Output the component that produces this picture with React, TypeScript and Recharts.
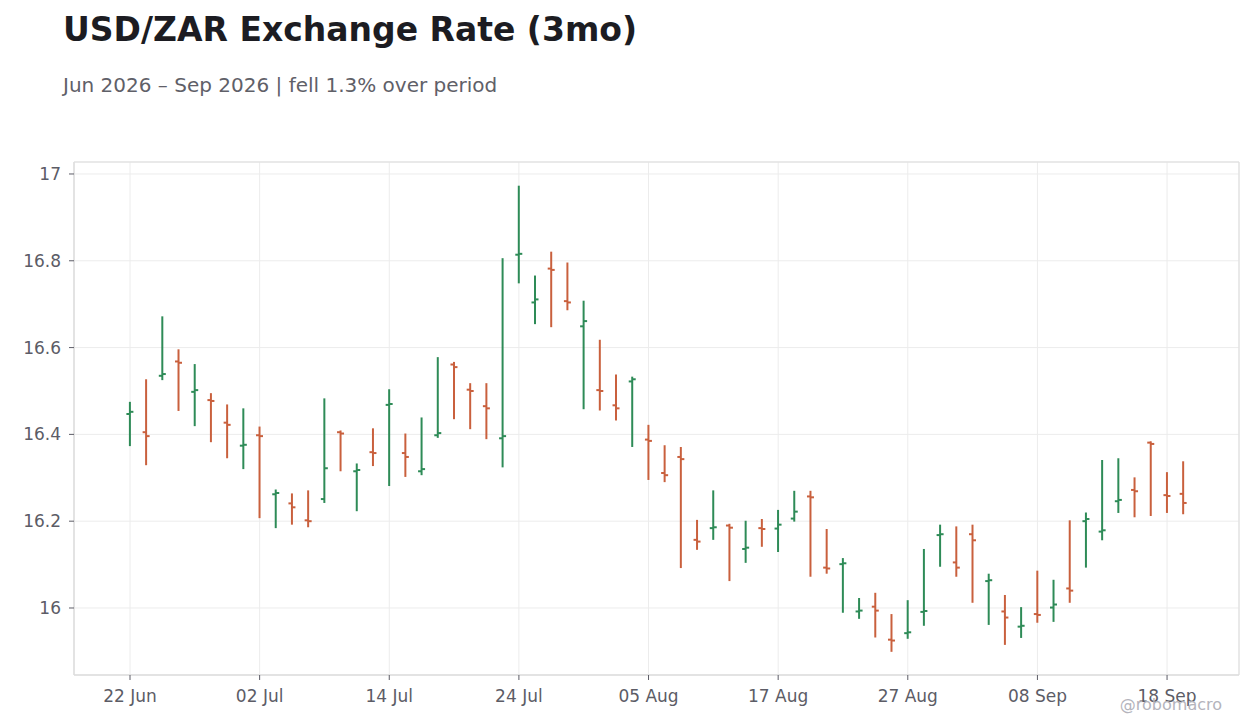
import {
  ComposedChart,
  Bar,
  XAxis,
  YAxis,
  CartesianGrid,
  ReferenceArea,
} from 'recharts'

// business days, 22 Jun -> 21 Sep 2026
const DATES = [
  '22 Jun', '23 Jun', '24 Jun', '25 Jun', '26 Jun', '29 Jun', '30 Jun',
  '01 Jul', '02 Jul', '03 Jul', '06 Jul', '07 Jul', '08 Jul', '09 Jul', '10 Jul',
  '13 Jul', '14 Jul', '15 Jul', '16 Jul', '17 Jul', '20 Jul', '21 Jul', '22 Jul',
  '23 Jul', '24 Jul', '27 Jul', '28 Jul', '29 Jul', '30 Jul', '31 Jul',
  '03 Aug', '04 Aug', '05 Aug', '06 Aug', '07 Aug', '10 Aug', '11 Aug', '12 Aug',
  '13 Aug', '14 Aug', '17 Aug', '18 Aug', '19 Aug', '20 Aug', '21 Aug', '24 Aug',
  '25 Aug', '26 Aug', '27 Aug', '28 Aug', '31 Aug',
  '01 Sep', '02 Sep', '03 Sep', '04 Sep', '07 Sep', '08 Sep', '09 Sep', '10 Sep',
  '11 Sep', '14 Sep', '15 Sep', '16 Sep', '17 Sep', '18 Sep', '21 Sep',
]

const OPEN = [
  16.447, 16.405, 16.535, 16.568, 16.498, 16.479, 16.427, 16.374, 16.398, 16.262,
  16.241, 16.202, 16.251, 16.405, 16.315, 16.359, 16.468, 16.357, 16.315, 16.398,
  16.561, 16.503, 16.465, 16.391, 16.814, 16.704, 16.782, 16.707, 16.649, 16.502,
  16.467, 16.522, 16.388, 16.311, 16.348, 16.157, 16.184, 16.190, 16.136, 16.184,
  16.183, 16.206, 16.257, 16.093, 16.101, 15.992, 16.003, 15.927, 15.942, 15.991,
  16.168, 16.105, 16.170, 16.062, 15.992, 15.957, 15.986, 16.001, 16.045, 16.200,
  16.176, 16.246, 16.272, 16.381, 16.260, 16.263,
]

const HIGH = [
  16.475, 16.527, 16.672, 16.596, 16.562, 16.495, 16.469, 16.460, 16.418, 16.273,
  16.264, 16.271, 16.483, 16.409, 16.333, 16.414, 16.504, 16.402, 16.439, 16.578,
  16.567, 16.518, 16.518, 16.806, 16.973, 16.766, 16.821, 16.796, 16.708, 16.618,
  16.538, 16.533, 16.422, 16.375, 16.371, 16.203, 16.271, 16.194, 16.201, 16.205,
  16.226, 16.270, 16.270, 16.182, 16.115, 16.023, 16.035, 15.986, 16.018, 16.136,
  16.192, 16.188, 16.192, 16.079, 16.030, 16.002, 16.086, 16.065, 16.202, 16.220,
  16.341, 16.345, 16.301, 16.384, 16.313, 16.338,
]

const LOW = [
  16.373, 16.329, 16.525, 16.454, 16.419, 16.382, 16.345, 16.320, 16.207, 16.184,
  16.192, 16.186, 16.242, 16.315, 16.223, 16.327, 16.281, 16.302, 16.306, 16.392,
  16.435, 16.412, 16.389, 16.324, 16.748, 16.654, 16.647, 16.686, 16.458, 16.455,
  16.432, 16.371, 16.295, 16.290, 16.092, 16.134, 16.157, 16.062, 16.104, 16.141,
  16.129, 16.199, 16.072, 16.079, 15.989, 15.975, 15.932, 15.899, 15.929, 15.959,
  16.095, 16.072, 16.012, 15.961, 15.915, 15.931, 15.966, 15.968, 16.012, 16.093,
  16.156, 16.219, 16.209, 16.212, 16.219, 16.216,
]

const CLOSE = [
  16.452, 16.396, 16.539, 16.565, 16.502, 16.477, 16.422, 16.376, 16.396, 16.265,
  16.232, 16.200, 16.322, 16.402, 16.318, 16.357, 16.470, 16.348, 16.320, 16.403,
  16.555, 16.500, 16.460, 16.396, 16.816, 16.711, 16.779, 16.704, 16.661, 16.500,
  16.460, 16.527, 16.385, 16.306, 16.343, 16.153, 16.186, 16.185, 16.139, 16.182,
  16.192, 16.222, 16.255, 16.091, 16.103, 15.994, 15.994, 15.925, 15.944, 15.993,
  16.170, 16.093, 16.156, 16.064, 15.978, 15.959, 15.984, 16.008, 16.040, 16.205,
  16.179, 16.249, 16.269, 16.378, 16.258, 16.242,
]

const X_TICKS = [0, 8, 16, 24, 32, 40, 48, 56, 64]
const Y_TICKS = [16, 16.2, 16.4, 16.6, 16.8, 17]
const X_DOMAIN: [number, number] = [-3.456, 68.44]
const Y_DOMAIN: [number, number] = [15.8456, 17.0276]

const UP = '#2e8b57'
const DOWN = '#c9603d'
const FONT = '"DejaVu Sans", sans-serif'

const data = DATES.map((d, i) => ({
  i,
  date: d,
  open: OPEN[i],
  high: HIGH[i],
  low: LOW[i],
  close: CLOSE[i],
  range: [LOW[i], HIGH[i]],
}))

// vertical low-high line, open tick on the left, close tick on the right
function OhlcShape(props: any) {
  const { x, y, width, height, payload } = props
  if (!payload) return null
  const cx = x + width / 2
  const span = payload.high - payload.low || 1
  const yOf = (v: number) => y + ((payload.high - v) / span) * height
  const color = payload.close >= payload.open ? UP : DOWN
  return (
    <g stroke={color} strokeWidth={2}>
      <line x1={cx} x2={cx} y1={y} y2={y + height} />
      <line x1={cx - 3.5} x2={cx} y1={yOf(payload.open)} y2={yOf(payload.open)} />
      <line x1={cx} x2={cx + 3.5} y1={yOf(payload.close)} y2={yOf(payload.close)} />
    </g>
  )
}

export default function App() {
  return (
    <div
      style={{
        position: 'absolute',
        left: 0,
        top: 0,
        width: 1260,
        height: 728,
        background: '#fff',
        fontFamily: FONT,
      }}
    >
      <ComposedChart
        width={1260}
        height={728}
        data={data}
        margin={{ top: 162, right: 21, left: 14, bottom: 23 }}
      >
        <CartesianGrid stroke="#ececec" />
        <ReferenceArea
          x1={X_DOMAIN[0]}
          x2={X_DOMAIN[1]}
          y1={Y_DOMAIN[0]}
          y2={Y_DOMAIN[1]}
          fill="none"
          stroke="#dddddd"
          strokeOpacity={1}
        />
        <XAxis
          dataKey="i"
          type="number"
          domain={X_DOMAIN}
          ticks={X_TICKS}
          allowDataOverflow
          tickFormatter={(v: number) => DATES[v] ?? ''}
          height={30}
          tickSize={5}
          tickMargin={10}
          axisLine={{ stroke: '#dddddd' }}
          tickLine={{ stroke: '#5c5c66' }}
          tick={{ fill: '#5c5c66', fontSize: 17, fontFamily: FONT }}
        />
        <YAxis
          type="number"
          domain={Y_DOMAIN}
          ticks={Y_TICKS}
          allowDataOverflow
          tickFormatter={(v: number) => String(Number(v.toFixed(1)))}
          width={60}
          tickSize={5}
          tickMargin={8}
          axisLine={{ stroke: '#dddddd' }}
          tickLine={{ stroke: '#5c5c66' }}
          tick={{ fill: '#5c5c66', fontSize: 17, fontFamily: FONT }}
        />
        <Bar
          dataKey="range"
          barSize={8}
          shape={<OhlcShape />}
          isAnimationActive={false}
        />
      </ComposedChart>
      <svg
        width={1260}
        height={728}
        style={{ position: 'absolute', left: 0, top: 0, pointerEvents: 'none' }}
      >
        <text x={63} y={41} fontFamily={FONT} fontSize={33} fontWeight="bold" fill="#1c1c22">
          USD/ZAR Exchange Rate (3mo)
        </text>
        <text x={63} y={92} fontFamily={FONT} fontSize={20} fill="#5f6068">
          Jun 2026 – Sep 2026 | fell 1.3% over period
        </text>
        <text x={1222} y={710} textAnchor="end" fontFamily={FONT} fontSize={16} fill="#b4b4bc">
          @robomacro
        </text>
      </svg>
    </div>
  )
}
